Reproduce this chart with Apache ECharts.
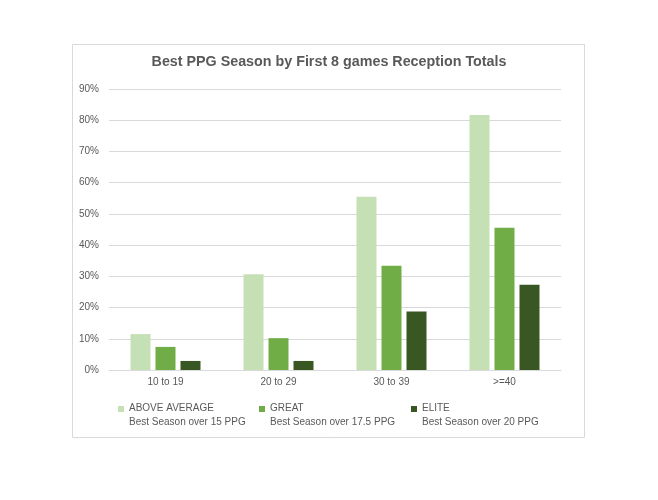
<!DOCTYPE html>
<html>
<head>
<meta charset="utf-8">
<script src="https://cdn.jsdelivr.net/npm/echarts@6/dist/echarts.min.js"></script>
<style>html,body{margin:0;padding:0;background:#fff;}#c{width:658px;height:500px;}</style>
</head>
<body>
<div id="c"></div>
<script>
var categories = ['10 to 19', '20 to 29', '30 to 39', '>=40'];
var seriesNames = ['ABOVE AVERAGE\nBest Season over 15 PPG', 'GREAT\nBest Season over 17.5 PPG', 'ELITE\nBest Season over 20 PPG'];
var aboveAverage = [11.5, 30.7, 55.5, 81.7];
var great = [7.4, 10.2, 33.4, 45.6];
var elite = [2.9, 2.9, 18.7, 27.3];
var colors = ['#C5E0B4', '#70AD47', '#385723'];
var legendLefts = [118, 259, 411];

var FONT = '"Liberation Sans", Arial, sans-serif';
var TXT = '#595959';
var values = [aboveAverage, great, elite];
var iconPath = 'path://M0,0h6v6h-6z M0,18 L0,18';

var chart = echarts.init(document.getElementById('c'), null, {renderer: 'canvas'});
var option = {
  backgroundColor: '#fff',
  animation: false,
  textStyle: {fontFamily: FONT},
  title: {
    text: 'Best PPG Season by First 8 games Reception Totals',
    left: 'center', top: 55, padding: 0,
    textStyle: {fontSize: 14.3, fontWeight: 'bold', color: TXT, fontFamily: FONT}
  },
  graphic: [{
    type: 'rect', z: -1, silent: true,
    shape: {x: 72.5, y: 44.5, width: 512, height: 393},
    style: {fill: 'none', stroke: '#D9D9D9', lineWidth: 1}
  }],
  legend: seriesNames.map(function (n, i) {
    return {
      data: [n], left: legendLefts[i], top: 401, padding: 0,
      itemWidth: 6, itemHeight: 18, icon: iconPath,
      textStyle: {fontSize: 10, color: TXT, lineHeight: 14, fontFamily: FONT}
    };
  }),
  grid: {left: 109, right: 97, top: 89, bottom: 130, containLabel: false},
  xAxis: {
    type: 'category', data: categories,
    axisLine: {lineStyle: {color: '#D9D9D9'}},
    axisTick: {show: false},
    axisLabel: {color: TXT, fontSize: 10, margin: 7, fontFamily: FONT}
  },
  yAxis: {
    type: 'value', min: 0, max: 90, interval: 10,
    axisLine: {show: false}, axisTick: {show: false},
    axisLabel: {color: TXT, fontSize: 10, margin: 10, fontFamily: FONT, formatter: '{value}%'},
    splitLine: {lineStyle: {color: '#D9D9D9'}}
  },
  series: values.map(function (v, i) {
    return {
      name: seriesNames[i], type: 'bar', data: v,
      barWidth: 20, barGap: '25%',
      itemStyle: {color: colors[i]}
    };
  })
};
chart.setOption(option);
</script>
</body>
</html>
